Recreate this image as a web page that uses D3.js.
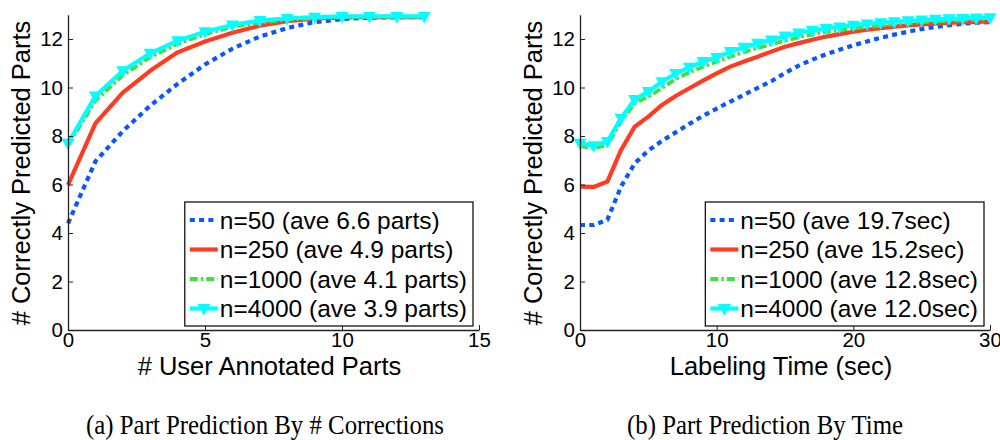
<!DOCTYPE html>
<html><head><meta charset="utf-8">
<script src="https://cdn.jsdelivr.net/npm/d3@7/dist/d3.min.js"></script>
<style>body{margin:0;background:#fff} text{font-family:"Liberation Sans",Arial,sans-serif}</style>
</head><body>
<svg id="chart" width="1000" height="440"></svg>
<script>
// ---------- data ----------
const seriesNames = ["n=50", "n=250", "n=1000", "n=4000"];
const legendA = ["n=50 (ave 6.6 parts)", "n=250 (ave 4.9 parts)", "n=1000 (ave 4.1 parts)", "n=4000 (ave 3.9 parts)"];
const legendB = ["n=50 (ave 19.7sec)", "n=250 (ave 15.2sec)", "n=1000 (ave 12.8sec)", "n=4000 (ave 12.0sec)"];

const partsX = [0,1,2,3,4,5,6,7,8,9,10,11,12,13];
const a50   = [4.4, 6.95, 8.2, 9.25, 10.15, 10.95, 11.6, 12.1, 12.45, 12.7, 12.82, 12.88, 12.9, 12.9];
const a250  = [5.98, 8.52, 9.79, 10.69, 11.45, 11.9, 12.26, 12.55, 12.74, 12.84, 12.89, 12.9, 12.9, 12.9];
const a1000 = [7.62, 9.45, 10.5, 11.25, 11.8, 12.2, 12.5, 12.68, 12.8, 12.86, 12.9, 12.92, 12.92, 12.92];
const a4000 = [7.7, 9.65, 10.69, 11.41, 11.93, 12.3, 12.58, 12.76, 12.85, 12.9, 12.93, 12.93, 12.93, 12.93];

const timeX = [0,1,2,3,4,5,6,7,8,9,10,11,12,13,14,15,16,17,18,19,20,21,22,23,24,25,26,27,28,29,30];
const b50   = [4.33, 4.33, 4.54, 5.91, 6.87, 7.4, 7.8, 8.15, 8.5, 8.83, 9.13, 9.42, 9.7, 9.98, 10.26, 10.6, 10.9, 11.15, 11.37, 11.56, 11.74, 11.9, 12.05, 12.18, 12.3, 12.41, 12.5, 12.57, 12.63, 12.67, 12.7];
const b250  = [5.91, 5.9, 6.12, 7.42, 8.38, 8.8, 9.28, 9.65, 9.97, 10.28, 10.58, 10.86, 11.07, 11.27, 11.48, 11.68, 11.83, 11.97, 12.1, 12.2, 12.3, 12.38, 12.45, 12.51, 12.56, 12.6, 12.63, 12.66, 12.69, 12.71, 12.73];
const b1000 = [7.58, 7.5, 7.62, 8.6, 9.35, 9.62, 9.98, 10.35, 10.62, 10.86, 11.06, 11.27, 11.46, 11.63, 11.78, 11.93, 12.07, 12.19, 12.29, 12.37, 12.44, 12.5, 12.56, 12.61, 12.65, 12.69, 12.72, 12.75, 12.78, 12.8, 12.82];
const b4000 = [7.7, 7.6, 7.77, 8.73, 9.51, 9.83, 10.24, 10.58, 10.83, 11.07, 11.24, 11.48, 11.66, 11.82, 11.96, 12.12, 12.25, 12.35, 12.43, 12.5, 12.57, 12.62, 12.67, 12.71, 12.75, 12.78, 12.81, 12.83, 12.85, 12.87, 12.88];

const yTicks = [0,2,4,6,8,10,12];
const xTicksA = [0,5,10,15];
const xTicksB = [0,10,20,30];
const yTitle = "# Correctly Predicted Parts";
const xTitleA = "# User Annotated Parts";
const xTitleB = "Labeling Time (sec)";
const captionA = "(a)  Part Prediction By # Corrections";
const captionB = "(b)  Part Prediction By Time";

// ---------- styles ----------
const styles = [
  {color:"#0a56ff", width:4.2, dash:"5,4.3", cap:"butt", marker:false},
  {color:"#ff3b22", width:4.2, dash:null, cap:"butt", marker:false},
  {color:"#3de23a", width:3.8, dash:"8,3,2.5,3", cap:"butt", marker:false},
  {color:"#00ffff", width:4.2, dash:null, cap:"butt", marker:true}
];

const svg = d3.select("#chart");
svg.append("rect").attr("width",1000).attr("height",440).attr("fill","#fff");

function tri(g, x, y, color){
  g.append("path")
   .attr("d", `M${x-6.5},${y-4.5} L${x+6.5},${y-4.5} L${x},${y+7} Z`)
   .attr("fill", color);
}

function panel(cfg){
  const x = d3.scaleLinear().domain(cfg.xDomain).range([cfg.left, cfg.right]);
  const y = d3.scaleLinear().domain([0,13]).range([330, 330 - 13*24.25]);
  const g = svg.append("g");

  // series
  cfg.series.forEach((vals, i) => {
    const st = styles[i];
    const pts = cfg.xs.map((xv, j) => [xv, vals[j]]);
    const line = d3.line().x(d => x(d[0])).y(d => y(d[1]));
    g.append("path").datum(pts).attr("d", line)
      .attr("fill","none").attr("stroke", st.color).attr("stroke-width", st.width)
      .attr("stroke-dasharray", st.dash).attr("stroke-linejoin","round").attr("stroke-linecap", st.cap);
    if (st.marker) pts.forEach(p => tri(g, x(p[0]), y(p[1]), st.color));
  });

  // axes
  const ax = g.append("g").attr("transform", `translate(0,330)`)
    .call(d3.axisBottom(x).tickValues(cfg.xTicks).tickSizeInner(-5).tickSizeOuter(0).tickPadding(2).tickFormat(d3.format("d")));
  const ay = g.append("g").attr("transform", `translate(${cfg.left},0)`)
    .call(d3.axisLeft(y).tickValues(yTicks).tickSizeInner(-5).tickSizeOuter(0).tickPadding(5).tickFormat(d3.format("d")));
  [ax, ay].forEach(a => {
    a.selectAll("text").attr("font-size", 20.5).attr("fill","#000").attr("font-family","Liberation Sans");
    a.select(".domain").attr("stroke","#222").attr("stroke-width",1.3);
    a.selectAll(".tick line").attr("stroke","#222").attr("stroke-width",1);
  });

  // titles
  g.append("text").attr("x", (cfg.left+cfg.right)/2 - 4).attr("y", 375)
    .attr("text-anchor","middle").attr("font-size", 25.5).text(cfg.xTitle);
  g.append("text").attr("transform", `translate(${cfg.left-38},${(330+16)/2}) rotate(-90)`)
    .attr("text-anchor","middle").attr("font-size", 25.5).text(yTitle);

  // legend
  const lg = g.append("g");
  const rowY = [220, 249.5, 279, 308.5];
  const texts = cfg.legend.map((t, i) => lg.append("text").attr("y", rowY[i]).attr("dy","0.35em")
    .attr("font-size", 24.5).text(t));
  const maxW = d3.max(texts, t => t.node().getComputedTextLength());
  const boxR = cfg.right - 6;
  const boxL = boxR - (5 + 28 + 2 + maxW + 6);
  lg.insert("rect", ":first-child").attr("x", boxL).attr("y", 202).attr("width", boxR-boxL).attr("height", 124)
    .attr("fill","#fff").attr("stroke","#000").attr("stroke-width",1.2);
  texts.forEach(t => t.attr("x", boxL + 35));
  cfg.legend.forEach((t, i) => {
    const st = styles[i];
    lg.append("line").attr("x1", boxL+5).attr("x2", boxL+33).attr("y1", rowY[i]).attr("y2", rowY[i])
      .attr("stroke", st.color).attr("stroke-width", st.width).attr("stroke-dasharray", st.dash);
    if (st.marker) tri(lg, boxL+19, rowY[i], st.color);
  });

  // caption
  svg.append("text").attr("transform", `translate(${cfg.capX},434) scale(0.92,1)`).attr("text-anchor","middle")
    .style("font-family","'Liberation Serif',serif")
    .attr("font-size", 27).text(cfg.caption);
}

panel({left:68, right:479, xDomain:[0,15], xTicks:xTicksA, xs:partsX, series:[a50,a250,a1000,a4000],
       legend:legendA, xTitle:xTitleA, caption:captionA, capX:265});
panel({left:580, right:990, xDomain:[0,30], xTicks:xTicksB, xs:timeX, series:[b50,b250,b1000,b4000],
       legend:legendB, xTitle:xTitleB, caption:captionB, capX:765});
</script>
</body></html>
